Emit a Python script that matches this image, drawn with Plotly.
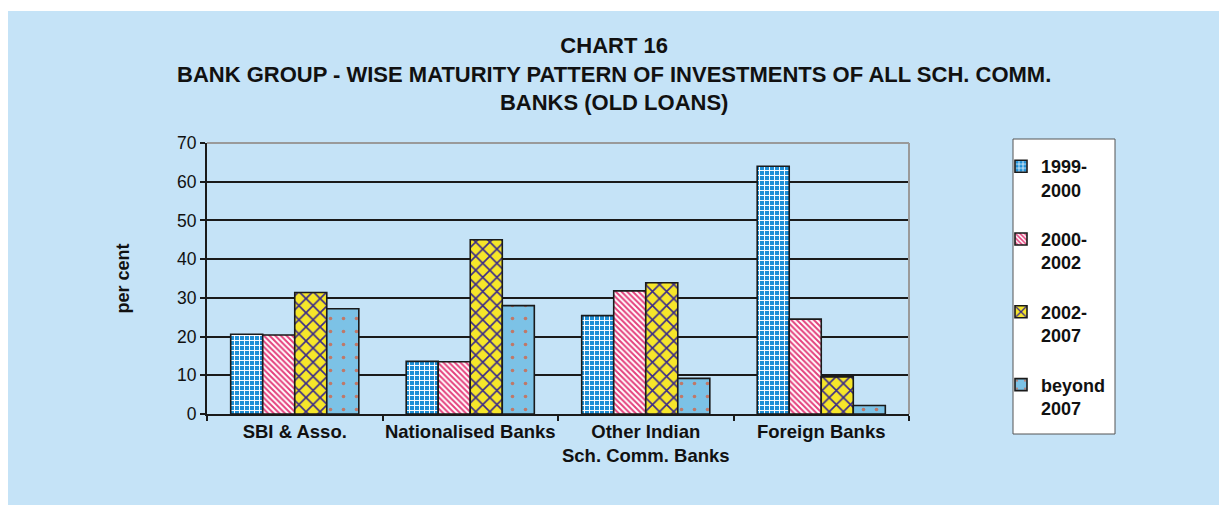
import plotly.graph_objects as go

# Bank groups and maturity buckets
categories = ["SBI & Asso.", "Nationalised Banks", "Other Indian<br>Sch. Comm. Banks", "Foreign Banks"]
series_names = ["1999-<br>2000", "2000-<br>2002", "2002-<br>2007", "beyond<br>2007"]

val_1999_2000 = [20.6, 13.6, 25.4, 64.0]
val_2000_2002 = [20.4, 13.5, 31.8, 24.5]
val_2002_2007 = [31.4, 45.0, 33.9, 9.6]
val_beyond_2007 = [27.2, 28.0, 9.2, 2.2]

y_ticks = [0, 10, 20, 30, 40, 50, 60, 70]

W, H = 1219, 505
L, R, T, B = 207, 310, 143, 91
PW, PH = W - L - R, H - T - B
BG = "#C5E3F7"
FONT = "Liberation Sans, Arial"


def px_x(x):
    return (x - L) / PW


def px_y(y):
    return (H - B - y) / PH


styles = [
    dict(bgcolor="#1E8FD6", fgcolor="#FFFFFF", shape="+", size=5, solidity=0.35),
    dict(bgcolor="#FFFFFF", fgcolor="#E4407C", shape="\\", size=4, solidity=0.5),
    dict(bgcolor="#F6E62A", fgcolor="#3A2A8A", shape="x", size=10, solidity=0.3),
    dict(bgcolor="#7CC2E6", fgcolor="#C07868", shape=".", size=13, solidity=0.06),
]

values = [val_1999_2000, val_2000_2002, val_2002_2007, val_beyond_2007]

fig = go.Figure()
for i, (name, vals, st) in enumerate(zip(series_names, values, styles)):
    fig.add_trace(go.Bar(
        x=categories, y=vals, name=f"<b>{name}</b>", legendgroup=f"g{i}",
        marker=dict(color=st["bgcolor"], line=dict(color="#1A1A1A", width=1.6),
                    pattern=dict(fillmode="replace", **st)),
    ))

title_text = ("<b>CHART 16<br>"
              "BANK GROUP - WISE MATURITY PATTERN OF INVESTMENTS OF ALL SCH. COMM.<br>"
              "BANKS (OLD LOANS)</b>")
annotations = [
    dict(text=title_text, x=px_x(614), y=px_y(74), xref="paper", yref="paper",
         xanchor="center", yanchor="middle", align="center", showarrow=False,
         font=dict(family=FONT, size=22, color="#111111"))
]

shapes = [
    # light blue backdrop
    dict(type="rect", xref="paper", yref="paper", x0=px_x(8), x1=px_x(W), y0=px_y(H), y1=px_y(11),
         fillcolor=BG, line=dict(width=0), layer="below"),
    # legend box
    dict(type="rect", xref="paper", yref="paper", x0=px_x(1013), x1=px_x(1115), y0=px_y(434), y1=px_y(139),
         fillcolor="#FFFFFF", line=dict(color="#555555", width=1), layer="below"),
    # grey frame on top and right of plot area
    dict(type="line", xref="paper", yref="paper", x0=0, x1=1, y0=1, y1=1,
         line=dict(color="#9A9A9A", width=2), layer="above"),
    dict(type="line", xref="paper", yref="paper", x0=1, x1=1, y0=0, y1=1,
         line=dict(color="#9A9A9A", width=2), layer="above"),
]

fig.update_layout(
    width=W, height=H,
    margin=dict(l=L, r=R, t=T, b=B, autoexpand=False),
    paper_bgcolor="#FFFFFF", plot_bgcolor=BG,
    font=dict(family=FONT, color="#111111"),
    barmode="group", bargap=0.27, bargroupgap=0.0,
    annotations=annotations, shapes=shapes,
    legend=dict(x=px_x(1001), y=px_y(148), xanchor="left", yanchor="top",
                traceorder="grouped", tracegroupgap=23, valign="top", maxheight=450,
                bgcolor="rgba(0,0,0,0)", borderwidth=0,
                font=dict(family=FONT, size=18, color="#111111")),
    xaxis=dict(showline=True, linecolor="#1A1A1A", linewidth=2, ticks="outside", tickson="boundaries",
               ticklen=5, tickcolor="#1A1A1A", tickwidth=1.5, tickangle=0, automargin=False,
               tickfont=dict(family=FONT, size=18.5, color="#111111"),
               tickprefix="<b>", ticksuffix="</b>", showgrid=False),
    yaxis=dict(range=[0, 70], tickvals=y_ticks, showline=True, linecolor="#1A1A1A", linewidth=2,
               ticks="outside", ticklen=5, tickcolor="#1A1A1A", tickwidth=1.5, automargin=False,
               showgrid=True, gridcolor="#1A1A1A", gridwidth=1.6, zeroline=False,
               tickfont=dict(family=FONT, size=17.5, color="#111111"),
               title=dict(text="<b>per cent</b>", standoff=43,
                          font=dict(family=FONT, size=18, color="#111111"))),
)

fig.write_html("out.html")
